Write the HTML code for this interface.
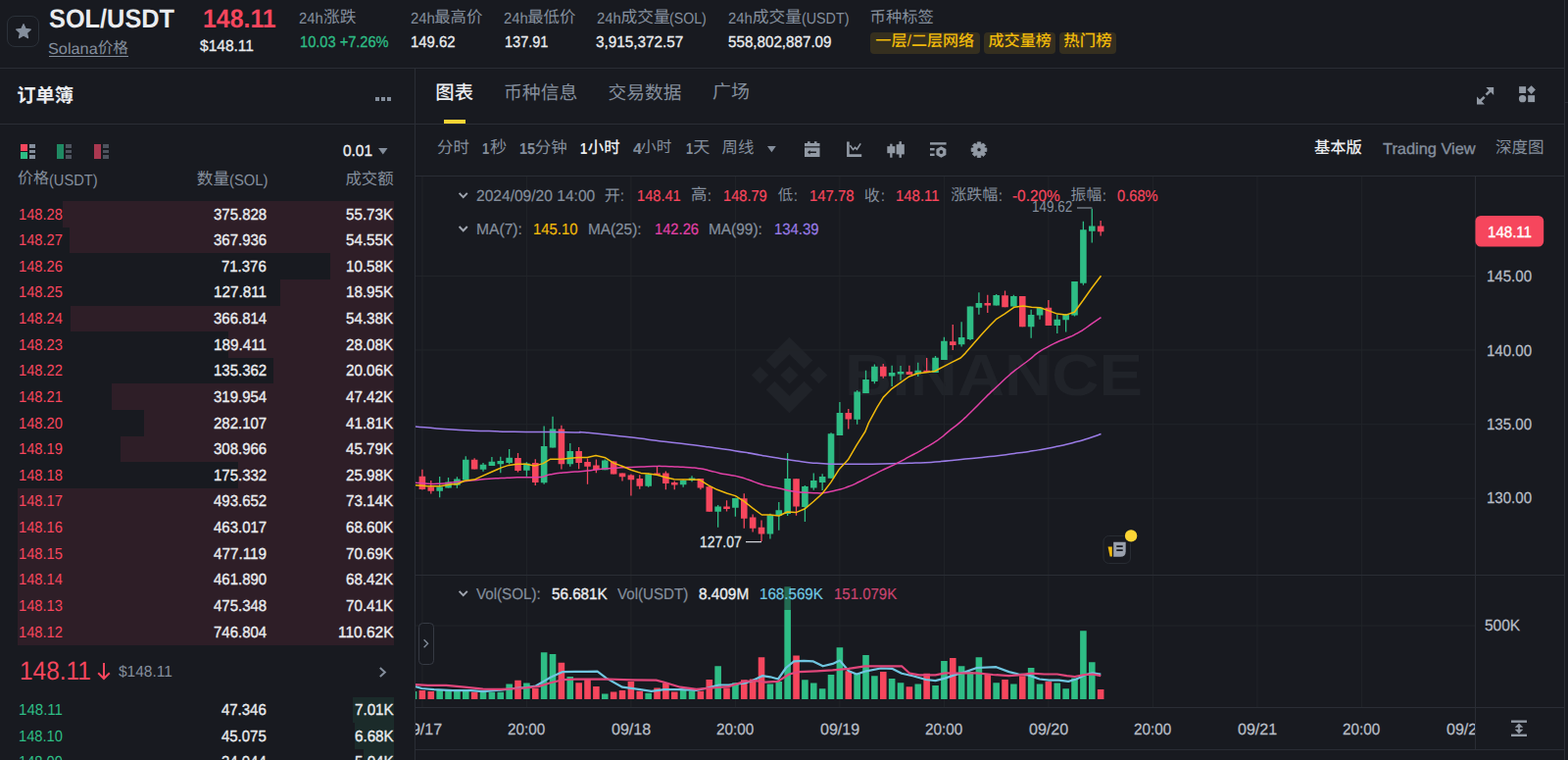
<!DOCTYPE html>
<html lang="zh-CN"><head><meta charset="utf-8"><title>SOL/USDT</title>
<style>
html,body{margin:0;padding:0;}
html{width:1600px;height:775px;overflow:hidden;background:#181a20;}
body{width:1600px;height:775px;overflow:hidden;position:relative;background:#181a20;font-family:"Liberation Sans",sans-serif;color:#eaecef;text-rendering:geometricPrecision;-webkit-font-smoothing:antialiased;}
.t{position:absolute;white-space:pre;transform-origin:0 50%;display:block;}
.k{font-family:"Liberation Sans","Noto Sans CJK SC",sans-serif;}
.c{position:absolute;display:block;line-height:0;}
.c svg{display:block;overflow:visible;}
.h{position:absolute;left:0;top:0;width:1px;height:1px;overflow:hidden;font-size:1px;line-height:1px;opacity:0;white-space:nowrap;}
#app{position:absolute;left:0;top:0;width:1600px;height:775px;overflow:hidden;}
.r{position:absolute;}
.a{position:absolute;display:block;overflow:visible;}
</style></head>
<body>
<div id="app">
<div class="r" style="left:0.00px;top:69.00px;width:1596.00px;height:1.00px;background:#2a2d35;"></div>
<div class="r" style="left:0.00px;top:126.00px;width:1596.00px;height:1.00px;background:#2a2d35;"></div>
<div class="r" style="left:424.00px;top:179.00px;width:1172.00px;height:1.00px;background:#2a2d35;"></div>
<div class="r" style="left:423.00px;top:69.00px;width:1.00px;height:706.00px;background:#2a2d35;"></div>
<div class="r" style="left:1596.00px;top:0.00px;width:1.00px;height:775.00px;background:#2a2d35;"></div>
<div class="r" style="left:1597.00px;top:104.00px;width:3.00px;height:1.00px;background:#2a2d35;"></div>
<div class="r" style="left:7px;top:16px;width:31px;height:30px;border:1px solid #2b3139;border-radius:8px"></div>
<svg class="a" style="left:14.5px;top:23px" width="18" height="18" viewBox="0 0 24 24"><path fill="#848e9c" d="M12 2.2l2.95 6.35 6.85.75-5.1 4.7 1.4 6.85L12 17.4l-6.1 3.45 1.4-6.85-5.1-4.7 6.85-.75z" stroke="#848e9c" stroke-width="1.6" stroke-linejoin="round"/></svg>
<span class="t" style="left:50.00px;top:5px;font-size:26.67px;line-height:29px;color:#eaecef;transform:scaleX(0.9505);font-weight:bold;">SOL/USDT</span>
<span class="t" style="left:49.40px;top:42px;font-size:16px;line-height:18px;color:#848e9c;transform:scaleX(1.0175);">Solana</span>
<span class="t k" style="left:99.72px;top:41.79px;font-size:15.62px;line-height:15.62px;color:#848e9c;">价格</span>
<div class="r" style="left:50.00px;top:57.00px;width:81.00px;height:1.00px;background:#848e9c;"></div>
<span class="t" style="left:206.90px;top:5px;font-size:26.67px;line-height:29px;color:#f6465d;transform:scaleX(0.9330);font-weight:bold;">148.11</span>
<span class="t" style="left:204.40px;top:39px;font-size:16px;line-height:18px;color:#eaecef;transform:scaleX(0.9708);-webkit-text-stroke:0.3px #eaecef;">$148.11</span>
<span class="t" style="left:305.40px;top:11px;font-size:16px;line-height:18px;color:#848e9c;transform:scaleX(0.9250);">24h</span>
<span class="t k" style="left:330.05px;top:10.23px;font-size:16.74px;line-height:16.74px;color:#848e9c;">涨跌</span>
<span class="t" style="left:306.30px;top:35px;font-size:16px;line-height:18px;color:#2ebd85;transform:scaleX(0.9133);-webkit-text-stroke:0.3px #2ebd85;">10.03 +7.26%</span>
<span class="t" style="left:418.80px;top:11px;font-size:16px;line-height:18px;color:#848e9c;transform:scaleX(0.9287);">24h</span>
<span class="t k" style="left:443.23px;top:10.41px;font-size:16.39px;line-height:16.39px;color:#848e9c;">最高价</span>
<span class="t" style="left:419.40px;top:35px;font-size:16px;line-height:18px;color:#eaecef;transform:scaleX(0.9318);-webkit-text-stroke:0.3px #eaecef;">149.62</span>
<span class="t" style="left:513.80px;top:11px;font-size:16px;line-height:18px;color:#848e9c;transform:scaleX(0.9287);">24h</span>
<span class="t k" style="left:538.23px;top:10.41px;font-size:16.39px;line-height:16.39px;color:#848e9c;">最低价</span>
<span class="t" style="left:515.00px;top:35px;font-size:16px;line-height:18px;color:#eaecef;transform:scaleX(0.9073);-webkit-text-stroke:0.3px #eaecef;">137.91</span>
<span class="t" style="left:608.80px;top:11px;font-size:16px;line-height:18px;color:#848e9c;transform:scaleX(0.9287);">24h</span>
<span class="t k" style="left:633.40px;top:10.21px;font-size:16.79px;line-height:16.79px;color:#848e9c;">成交量</span>
<span class="t" style="left:683.40px;top:11px;font-size:16px;line-height:18px;color:#848e9c;transform:scaleX(0.8858);">(SOL)</span>
<span class="t" style="left:608.20px;top:35px;font-size:16px;line-height:18px;color:#eaecef;transform:scaleX(0.9559);-webkit-text-stroke:0.3px #eaecef;">3,915,372.57</span>
<span class="t" style="left:743.20px;top:11px;font-size:16px;line-height:18px;color:#848e9c;transform:scaleX(0.9287);">24h</span>
<span class="t k" style="left:767.80px;top:10.21px;font-size:16.79px;line-height:16.79px;color:#848e9c;">成交量</span>
<span class="t" style="left:817.80px;top:11px;font-size:16px;line-height:18px;color:#848e9c;transform:scaleX(0.8927);">(USDT)</span>
<span class="t" style="left:743.20px;top:35px;font-size:16px;line-height:18px;color:#eaecef;transform:scaleX(0.9486);-webkit-text-stroke:0.3px #eaecef;">558,802,887.09</span>
<span class="t k" style="left:887.61px;top:10.27px;font-size:16.27px;line-height:16.27px;color:#848e9c;">币种标签</span>
<div class="r" style="left:888.00px;top:33.30px;width:112.00px;height:21.30px;background:#352f1f;border-radius:4px"></div>
<div class="r" style="left:1004.00px;top:33.30px;width:73.00px;height:21.30px;background:#352f1f;border-radius:4px"></div>
<div class="r" style="left:1081.00px;top:33.30px;width:58.00px;height:21.30px;background:#352f1f;border-radius:4px"></div>
<span class="t k" style="left:893.32px;top:34.26px;font-size:16.07px;line-height:16.07px;color:#f0b90b;font-weight:500;">一层/二层网络</span>
<span class="t k" style="left:1008.50px;top:34.26px;font-size:16.07px;line-height:16.07px;color:#f0b90b;font-weight:500;">成交量榜</span>
<span class="t k" style="left:1085.36px;top:34.09px;font-size:16.41px;line-height:16.41px;color:#f0b90b;font-weight:500;">热门榜</span>
<span class="t k" style="left:17.25px;top:89.34px;font-size:19.32px;line-height:19.32px;color:#eaecef;font-weight:bold;">订单簿</span>
<div class="r" style="left:382.50px;top:99.00px;width:4.30px;height:4.00px;background:#848e9c;"></div>
<div class="r" style="left:388.60px;top:99.00px;width:4.30px;height:4.00px;background:#848e9c;"></div>
<div class="r" style="left:394.80px;top:99.00px;width:4.30px;height:4.00px;background:#848e9c;"></div>
<div class="r" style="left:21.00px;top:147.00px;width:6.50px;height:7.00px;background:#f6465d;"></div>
<div class="r" style="left:21.00px;top:155.00px;width:6.50px;height:7.00px;background:#2ebd85;"></div>
<div class="r" style="left:29.50px;top:147.00px;width:6.70px;height:3.60px;background:#848e9c;"></div>
<div class="r" style="left:29.50px;top:152.50px;width:6.70px;height:3.60px;background:#848e9c;"></div>
<div class="r" style="left:29.50px;top:158.00px;width:6.70px;height:3.60px;background:#848e9c;"></div>
<div class="r" style="left:58.30px;top:147.00px;width:6.50px;height:15.00px;background:#1f8a63;"></div>
<div class="r" style="left:66.80px;top:147.00px;width:6.70px;height:3.60px;background:#4e545f;"></div>
<div class="r" style="left:66.80px;top:152.50px;width:6.70px;height:3.60px;background:#4e545f;"></div>
<div class="r" style="left:66.80px;top:158.00px;width:6.70px;height:3.60px;background:#4e545f;"></div>
<div class="r" style="left:96.00px;top:147.00px;width:6.50px;height:15.00px;background:#a93850;"></div>
<div class="r" style="left:104.50px;top:147.00px;width:6.70px;height:3.60px;background:#4e545f;"></div>
<div class="r" style="left:104.50px;top:152.50px;width:6.70px;height:3.60px;background:#4e545f;"></div>
<div class="r" style="left:104.50px;top:158.00px;width:6.70px;height:3.60px;background:#4e545f;"></div>
<span class="t" style="left:349.60px;top:146px;font-size:16px;line-height:18px;color:#eaecef;transform:scaleX(0.9634);-webkit-text-stroke:0.35px #eaecef;">0.01</span>
<svg class="a" style="left:386px;top:150.6px" width="9.6" height="6.6" viewBox="0 0 10 7"><path fill="#848e9c" d="M0 0h10L5 7z"/></svg>
<span class="t k" style="left:18.01px;top:175.01px;font-size:15.98px;line-height:15.98px;color:#848e9c;">价格</span>
<span class="t" style="left:50.00px;top:176px;font-size:16px;line-height:18px;color:#848e9c;transform:scaleX(0.9148);">(USDT)</span>
<span class="t k" style="left:200.75px;top:174.65px;font-size:16.70px;line-height:16.70px;color:#848e9c;">数量</span>
<span class="t" style="left:233.80px;top:176px;font-size:16px;line-height:18px;color:#848e9c;transform:scaleX(0.9233);">(SOL)</span>
<span class="t k" style="left:352.41px;top:174.79px;font-size:16.42px;line-height:16.42px;color:#848e9c;">成交额</span>
<div class="r" style="left:64.00px;top:205.00px;width:338.40px;height:26.68px;background:#2e1e27;"></div>
<span class="t" style="left:19.40px;top:211px;font-size:16px;line-height:18px;color:#f6465d;transform:scaleX(0.9185);">148.28</span>
<span class="t" style="left:217.70px;top:211px;font-size:16px;line-height:18px;color:#eaecef;transform:scaleX(0.9353);-webkit-text-stroke:0.35px #eaecef;">375.828</span>
<span class="t" style="left:353.40px;top:211px;font-size:16px;line-height:18px;color:#eaecef;transform:scaleX(0.9484);-webkit-text-stroke:0.35px #eaecef;">55.73K</span>
<div class="r" style="left:71.00px;top:231.62px;width:331.40px;height:26.68px;background:#2e1e27;"></div>
<span class="t" style="left:19.40px;top:237px;font-size:16px;line-height:18px;color:#f6465d;transform:scaleX(0.9185);">148.27</span>
<span class="t" style="left:217.70px;top:237px;font-size:16px;line-height:18px;color:#eaecef;transform:scaleX(0.9353);-webkit-text-stroke:0.35px #eaecef;">367.936</span>
<span class="t" style="left:353.40px;top:237px;font-size:16px;line-height:18px;color:#eaecef;transform:scaleX(0.9484);-webkit-text-stroke:0.35px #eaecef;">54.55K</span>
<div class="r" style="left:337.00px;top:258.25px;width:65.40px;height:26.68px;background:#2e1e27;"></div>
<span class="t" style="left:19.40px;top:264px;font-size:16px;line-height:18px;color:#f6465d;transform:scaleX(0.9185);">148.26</span>
<span class="t" style="left:226.10px;top:264px;font-size:16px;line-height:18px;color:#eaecef;transform:scaleX(0.9338);-webkit-text-stroke:0.35px #eaecef;">71.376</span>
<span class="t" style="left:353.40px;top:264px;font-size:16px;line-height:18px;color:#eaecef;transform:scaleX(0.9484);-webkit-text-stroke:0.35px #eaecef;">10.58K</span>
<div class="r" style="left:286.00px;top:284.88px;width:116.40px;height:26.68px;background:#2e1e27;"></div>
<span class="t" style="left:19.40px;top:290px;font-size:16px;line-height:18px;color:#f6465d;transform:scaleX(0.9185);">148.25</span>
<span class="t" style="left:217.70px;top:290px;font-size:16px;line-height:18px;color:#eaecef;transform:scaleX(0.9549);-webkit-text-stroke:0.35px #eaecef;">127.811</span>
<span class="t" style="left:353.40px;top:290px;font-size:16px;line-height:18px;color:#eaecef;transform:scaleX(0.9484);-webkit-text-stroke:0.35px #eaecef;">18.95K</span>
<div class="r" style="left:72.00px;top:311.50px;width:330.40px;height:26.68px;background:#2e1e27;"></div>
<span class="t" style="left:19.40px;top:317px;font-size:16px;line-height:18px;color:#f6465d;transform:scaleX(0.9185);">148.24</span>
<span class="t" style="left:217.70px;top:317px;font-size:16px;line-height:18px;color:#eaecef;transform:scaleX(0.9353);-webkit-text-stroke:0.35px #eaecef;">366.814</span>
<span class="t" style="left:353.40px;top:317px;font-size:16px;line-height:18px;color:#eaecef;transform:scaleX(0.9484);-webkit-text-stroke:0.35px #eaecef;">54.38K</span>
<div class="r" style="left:233.00px;top:338.12px;width:169.40px;height:26.68px;background:#2e1e27;"></div>
<span class="t" style="left:19.40px;top:344px;font-size:16px;line-height:18px;color:#f6465d;transform:scaleX(0.9185);">148.23</span>
<span class="t" style="left:217.70px;top:344px;font-size:16px;line-height:18px;color:#eaecef;transform:scaleX(0.9549);-webkit-text-stroke:0.35px #eaecef;">189.411</span>
<span class="t" style="left:353.40px;top:344px;font-size:16px;line-height:18px;color:#eaecef;transform:scaleX(0.9484);-webkit-text-stroke:0.35px #eaecef;">28.08K</span>
<div class="r" style="left:279.00px;top:364.75px;width:123.40px;height:26.68px;background:#2e1e27;"></div>
<span class="t" style="left:19.40px;top:370px;font-size:16px;line-height:18px;color:#f6465d;transform:scaleX(0.9185);">148.22</span>
<span class="t" style="left:217.70px;top:370px;font-size:16px;line-height:18px;color:#eaecef;transform:scaleX(0.9353);-webkit-text-stroke:0.35px #eaecef;">135.362</span>
<span class="t" style="left:353.40px;top:370px;font-size:16px;line-height:18px;color:#eaecef;transform:scaleX(0.9484);-webkit-text-stroke:0.35px #eaecef;">20.06K</span>
<div class="r" style="left:114.00px;top:391.38px;width:288.40px;height:26.68px;background:#2e1e27;"></div>
<span class="t" style="left:19.40px;top:397px;font-size:16px;line-height:18px;color:#f6465d;transform:scaleX(0.9185);">148.21</span>
<span class="t" style="left:217.70px;top:397px;font-size:16px;line-height:18px;color:#eaecef;transform:scaleX(0.9353);-webkit-text-stroke:0.35px #eaecef;">319.954</span>
<span class="t" style="left:353.40px;top:397px;font-size:16px;line-height:18px;color:#eaecef;transform:scaleX(0.9484);-webkit-text-stroke:0.35px #eaecef;">47.42K</span>
<div class="r" style="left:147.00px;top:418.00px;width:255.40px;height:26.68px;background:#2e1e27;"></div>
<span class="t" style="left:19.40px;top:424px;font-size:16px;line-height:18px;color:#f6465d;transform:scaleX(0.9185);">148.20</span>
<span class="t" style="left:217.70px;top:424px;font-size:16px;line-height:18px;color:#eaecef;transform:scaleX(0.9353);-webkit-text-stroke:0.35px #eaecef;">282.107</span>
<span class="t" style="left:353.40px;top:424px;font-size:16px;line-height:18px;color:#eaecef;transform:scaleX(0.9484);-webkit-text-stroke:0.35px #eaecef;">41.81K</span>
<div class="r" style="left:123.00px;top:444.62px;width:279.40px;height:26.68px;background:#2e1e27;"></div>
<span class="t" style="left:19.40px;top:450px;font-size:16px;line-height:18px;color:#f6465d;transform:scaleX(0.9185);">148.19</span>
<span class="t" style="left:217.70px;top:450px;font-size:16px;line-height:18px;color:#eaecef;transform:scaleX(0.9353);-webkit-text-stroke:0.35px #eaecef;">308.966</span>
<span class="t" style="left:353.40px;top:450px;font-size:16px;line-height:18px;color:#eaecef;transform:scaleX(0.9484);-webkit-text-stroke:0.35px #eaecef;">45.79K</span>
<div class="r" style="left:243.00px;top:471.25px;width:159.40px;height:26.68px;background:#2e1e27;"></div>
<span class="t" style="left:19.40px;top:477px;font-size:16px;line-height:18px;color:#f6465d;transform:scaleX(0.9185);">148.18</span>
<span class="t" style="left:217.70px;top:477px;font-size:16px;line-height:18px;color:#eaecef;transform:scaleX(0.9353);-webkit-text-stroke:0.35px #eaecef;">175.332</span>
<span class="t" style="left:353.40px;top:477px;font-size:16px;line-height:18px;color:#eaecef;transform:scaleX(0.9484);-webkit-text-stroke:0.35px #eaecef;">25.98K</span>
<div class="r" style="left:18.00px;top:497.88px;width:384.40px;height:26.68px;background:#2e1e27;"></div>
<span class="t" style="left:19.40px;top:503px;font-size:16px;line-height:18px;color:#f6465d;transform:scaleX(0.9185);">148.17</span>
<span class="t" style="left:217.70px;top:503px;font-size:16px;line-height:18px;color:#eaecef;transform:scaleX(0.9353);-webkit-text-stroke:0.35px #eaecef;">493.652</span>
<span class="t" style="left:353.40px;top:503px;font-size:16px;line-height:18px;color:#eaecef;transform:scaleX(0.9484);-webkit-text-stroke:0.35px #eaecef;">73.14K</span>
<div class="r" style="left:18.00px;top:524.50px;width:384.40px;height:26.68px;background:#2e1e27;"></div>
<span class="t" style="left:19.40px;top:530px;font-size:16px;line-height:18px;color:#f6465d;transform:scaleX(0.9185);">148.16</span>
<span class="t" style="left:217.70px;top:530px;font-size:16px;line-height:18px;color:#eaecef;transform:scaleX(0.9353);-webkit-text-stroke:0.35px #eaecef;">463.017</span>
<span class="t" style="left:353.40px;top:530px;font-size:16px;line-height:18px;color:#eaecef;transform:scaleX(0.9484);-webkit-text-stroke:0.35px #eaecef;">68.60K</span>
<div class="r" style="left:18.00px;top:551.12px;width:384.40px;height:26.68px;background:#2e1e27;"></div>
<span class="t" style="left:19.40px;top:557px;font-size:16px;line-height:18px;color:#f6465d;transform:scaleX(0.9185);">148.15</span>
<span class="t" style="left:217.70px;top:557px;font-size:16px;line-height:18px;color:#eaecef;transform:scaleX(0.9549);-webkit-text-stroke:0.35px #eaecef;">477.119</span>
<span class="t" style="left:353.40px;top:557px;font-size:16px;line-height:18px;color:#eaecef;transform:scaleX(0.9484);-webkit-text-stroke:0.35px #eaecef;">70.69K</span>
<div class="r" style="left:18.00px;top:577.75px;width:384.40px;height:26.68px;background:#2e1e27;"></div>
<span class="t" style="left:19.40px;top:583px;font-size:16px;line-height:18px;color:#f6465d;transform:scaleX(0.9185);">148.14</span>
<span class="t" style="left:217.70px;top:583px;font-size:16px;line-height:18px;color:#eaecef;transform:scaleX(0.9353);-webkit-text-stroke:0.35px #eaecef;">461.890</span>
<span class="t" style="left:353.40px;top:583px;font-size:16px;line-height:18px;color:#eaecef;transform:scaleX(0.9484);-webkit-text-stroke:0.35px #eaecef;">68.42K</span>
<div class="r" style="left:18.00px;top:604.38px;width:384.40px;height:26.68px;background:#2e1e27;"></div>
<span class="t" style="left:19.40px;top:610px;font-size:16px;line-height:18px;color:#f6465d;transform:scaleX(0.9185);">148.13</span>
<span class="t" style="left:217.70px;top:610px;font-size:16px;line-height:18px;color:#eaecef;transform:scaleX(0.9353);-webkit-text-stroke:0.35px #eaecef;">475.348</span>
<span class="t" style="left:353.40px;top:610px;font-size:16px;line-height:18px;color:#eaecef;transform:scaleX(0.9484);-webkit-text-stroke:0.35px #eaecef;">70.41K</span>
<div class="r" style="left:18.00px;top:631.00px;width:384.40px;height:26.68px;background:#2e1e27;"></div>
<span class="t" style="left:19.40px;top:637px;font-size:16px;line-height:18px;color:#f6465d;transform:scaleX(0.9185);">148.12</span>
<span class="t" style="left:217.70px;top:637px;font-size:16px;line-height:18px;color:#eaecef;transform:scaleX(0.9353);-webkit-text-stroke:0.35px #eaecef;">746.804</span>
<span class="t" style="left:345.00px;top:637px;font-size:16px;line-height:18px;color:#eaecef;transform:scaleX(0.9671);-webkit-text-stroke:0.35px #eaecef;">110.62K</span>
<span class="t" style="left:20.30px;top:670px;font-size:26.67px;line-height:29px;color:#f6465d;transform:scaleX(0.9163);">148.11</span>
<svg class="a" style="left:99px;top:675px" width="14" height="19" viewBox="0 0 14 19"><path fill="none" stroke="#f6465d" stroke-width="2" d="M7 1v16M1.2 11.2L7 17l5.8-5.8"/></svg>
<span class="t" style="left:121.40px;top:677px;font-size:16px;line-height:18px;color:#848e9c;transform:scaleX(0.9690);">$148.11</span>
<svg class="a" style="left:386px;top:679.5px" width="9" height="11" viewBox="0 0 9 11"><path fill="none" stroke="#848e9c" stroke-width="2" d="M1.8 1l5 4.5-5 4.5"/></svg>
<div class="r" style="left:360.30px;top:710.70px;width:42.10px;height:26.68px;background:#1b2b2a;"></div>
<span class="t" style="left:19.40px;top:716px;font-size:16px;line-height:18px;color:#2ebd85;transform:scaleX(0.9414);">148.11</span>
<span class="t" style="left:226.10px;top:716px;font-size:16px;line-height:18px;color:#eaecef;transform:scaleX(0.9338);-webkit-text-stroke:0.35px #eaecef;">47.346</span>
<span class="t" style="left:361.80px;top:716px;font-size:16px;line-height:18px;color:#eaecef;transform:scaleX(0.9495);-webkit-text-stroke:0.35px #eaecef;">7.01K</span>
<div class="r" style="left:362.00px;top:737.33px;width:40.40px;height:26.68px;background:#1b2b2a;"></div>
<span class="t" style="left:19.40px;top:743px;font-size:16px;line-height:18px;color:#2ebd85;transform:scaleX(0.9185);">148.10</span>
<span class="t" style="left:226.10px;top:743px;font-size:16px;line-height:18px;color:#eaecef;transform:scaleX(0.9338);-webkit-text-stroke:0.35px #eaecef;">45.075</span>
<span class="t" style="left:361.80px;top:743px;font-size:16px;line-height:18px;color:#eaecef;transform:scaleX(0.9495);-webkit-text-stroke:0.35px #eaecef;">6.68K</span>
<div class="r" style="left:371.00px;top:763.95px;width:31.40px;height:26.68px;background:#1b2b2a;"></div>
<span class="t" style="left:19.40px;top:769px;font-size:16px;line-height:18px;color:#2ebd85;transform:scaleX(0.9185);">148.09</span>
<span class="t" style="left:226.10px;top:769px;font-size:16px;line-height:18px;color:#eaecef;transform:scaleX(0.9338);-webkit-text-stroke:0.35px #eaecef;">34.044</span>
<span class="t" style="left:361.80px;top:769px;font-size:16px;line-height:18px;color:#eaecef;transform:scaleX(0.9495);-webkit-text-stroke:0.35px #eaecef;">5.04K</span>
<span class="t k" style="left:444.37px;top:85.53px;font-size:19.34px;line-height:19.34px;color:#eaecef;font-weight:500;">图表</span>
<div class="r" style="left:453.00px;top:122.00px;width:22.00px;height:4.00px;background:#fcd535;"></div>
<span class="t k" style="left:513.92px;top:85.76px;font-size:18.88px;line-height:18.88px;color:#848e9c;">币种信息</span>
<span class="t k" style="left:620.62px;top:85.85px;font-size:18.69px;line-height:18.69px;color:#848e9c;">交易数据</span>
<span class="t k" style="left:727.06px;top:85.73px;font-size:18.94px;line-height:18.94px;color:#848e9c;">广场</span>
<svg class="a" style="left:1507px;top:88.7px" width="17.2" height="17.5" viewBox="0 0 17.2 17.5" fill="#929aa5"><path d="M9.3 0h7.9v7.9z"/><path d="M0 9.6l7.9 7.9H0z"/><path d="M14.4 2.8L9.5 7.7M2.8 14.7l4.9-4.9" stroke="#929aa5" stroke-width="2.6" fill="none"/></svg>
<svg class="a" style="left:1550px;top:87px" width="17" height="17.5" viewBox="0 0 17 17.5" fill="#929aa5"><rect x="0.1" y="1.2" width="7" height="6.8"/><path d="M12.6 0.2l4.3 4.4-4.3 4.4-4.3-4.4z"/><circle cx="3.6" cy="13.65" r="3.7"/><rect x="9.2" y="10.2" width="6.9" height="6.9"/></svg>
<span class="t k" style="left:446.08px;top:142.66px;font-size:16.48px;line-height:16.48px;color:#848e9c;">分时</span>
<span class="t" style="left:492.20px;top:144px;font-size:16px;line-height:18px;color:#848e9c;transform:scaleX(0.8084);font-weight:bold;">1</span>
<span class="t k" style="left:500.08px;top:142.31px;font-size:17.19px;line-height:17.19px;color:#848e9c;">秒</span>
<span class="t" style="left:530.30px;top:144px;font-size:16px;line-height:18px;color:#848e9c;transform:scaleX(0.9047);font-weight:bold;">15</span>
<span class="t k" style="left:545.87px;top:142.66px;font-size:16.48px;line-height:16.48px;color:#848e9c;">分钟</span>
<span class="t" style="left:592.20px;top:144px;font-size:16px;line-height:18px;color:#eaecef;transform:scaleX(0.8084);font-weight:bold;">1</span>
<span class="t k" style="left:599.74px;top:142.67px;font-size:16.46px;line-height:16.46px;color:#eaecef;font-weight:500;">小时</span>
<span class="t" style="left:645.70px;top:144px;font-size:16px;line-height:18px;color:#848e9c;transform:scaleX(0.9993);font-weight:bold;">4</span>
<span class="t k" style="left:654.10px;top:143.13px;font-size:15.54px;line-height:15.54px;color:#848e9c;">小时</span>
<span class="t" style="left:700.30px;top:144px;font-size:16px;line-height:18px;color:#848e9c;transform:scaleX(0.7972);font-weight:bold;">1</span>
<span class="t k" style="left:707.28px;top:142.35px;font-size:17.10px;line-height:17.10px;color:#848e9c;">天</span>
<span class="t k" style="left:736.56px;top:142.69px;font-size:16.42px;line-height:16.42px;color:#848e9c;">周线</span>
<svg class="a" style="left:782.5px;top:149.3px" width="8.8" height="6.4" viewBox="0 0 10 7"><path fill="#848e9c" d="M0 0h10L5 7z"/></svg>
<svg class="a" style="left:821px;top:144px" width="15.5" height="16" viewBox="0 0 15.5 16" fill="#929aa5"><path d="M0 2h3V0.3h2.6V2h4.3V0.3h2.6V2h3v3.2H0z"/><path d="M0 6.6h15.5V16H0z M5.6 9L3 11.3l2.6 2.3v-1.5h6.3v-1.7H5.6z" fill-rule="evenodd"/></svg>
<svg class="a" style="left:864px;top:144px" width="15.5" height="16" viewBox="0 0 15.5 16" fill="none" stroke="#929aa5"><path d="M1.4 0.5V14.6H15.2" stroke-width="2.6"/><path d="M3.4 4.2L6.5 8.6 8.6 6.4 10.4 8.2 14.2 2.4" stroke-width="1.6"/></svg>
<svg class="a" style="left:905px;top:143.8px" width="18" height="17" viewBox="0 0 18 17" fill="#929aa5"><rect x="0.3" y="5.2" width="8" height="7"/><rect x="3.2" y="2.7" width="2.3" height="14"/><rect x="9.6" y="3.2" width="8.2" height="10.2"/><rect x="12.5" y="0.2" width="2.4" height="16.6"/></svg>
<svg class="a" style="left:948.7px;top:145.3px" width="17" height="16" viewBox="0 0 17 16" fill="#929aa5"><rect x="0" y="0.2" width="16.6" height="2.4"/><rect x="0" y="6" width="4.6" height="2.4"/><rect x="0" y="11.6" width="4.6" height="2.4"/><path d="M11.4 4.2l5 2.9v5.8l-5 2.9-5-2.9V7.1z M11.4 8.1a1.9 1.9 0 100 3.8 1.9 1.9 0 000-3.8z" fill-rule="evenodd"/></svg>
<svg class="a" style="left:990px;top:144px" width="18" height="18" viewBox="0 0 18 18"><path fill="#929aa5" fill-rule="evenodd" stroke="#929aa5" stroke-width="0.8" stroke-linejoin="round" d="M7.25 0.89L10.75 0.89L10.70 2.84L11.94 3.35L13.29 1.95L15.75 4.41L14.35 5.76L14.86 7.00L16.81 6.95L16.81 10.45L14.86 10.40L14.35 11.64L15.75 12.99L13.29 15.45L11.94 14.05L10.70 14.56L10.75 16.51L7.25 16.51L7.30 14.56L6.06 14.05L4.71 15.45L2.25 12.99L3.65 11.64L3.14 10.40L1.19 10.45L1.19 6.95L3.14 7.00L3.65 5.76L2.25 4.41L4.71 1.95L6.06 3.35L7.30 2.84z M9 6.6a2.1 2.1 0 100 4.2 2.1 2.1 0 000-4.2z"/></svg>
<span class="t k" style="left:1341.01px;top:142.85px;font-size:16.31px;line-height:16.31px;color:#eaecef;font-weight:500;">基本版</span>
<span class="t" style="left:1410.70px;top:144px;font-size:16px;line-height:18px;color:#848e9c;transform:scaleX(1.0227);-webkit-text-stroke:0.35px #848e9c;">Trading View</span>
<span class="t k" style="left:1525.97px;top:142.72px;font-size:16.57px;line-height:16.57px;color:#848e9c;">深度图</span>
<svg class="a" style="left:0;top:0" width="1600" height="775" viewBox="0 0 1600 775"><defs><clipPath id="cp"><rect x="424" y="180" width="1081.5" height="541.5"/></clipPath></defs><g fill="#202329" transform="translate(766.8 343.8) scale(0.612)"><path d="M63.3 48.57L78.04 63.3 63.3 78.04 48.57 63.3z"/><path d="M38.73 53.2L63.3 28.63 87.88 53.21 102.18 38.91 63.3 0 24.43 38.9z"/><path d="M0 63.31L14.3 49.01 28.6 63.31 14.3 77.61z"/><path d="M98.01 63.31L112.31 49.01 126.61 63.31 112.31 77.61z"/><path d="M38.73 73.41L63.3 97.99 87.88 73.41 102.18 87.7 63.3 126.61 24.43 87.71z"/></g><text x="862" y="403.4" font-family="Liberation Sans, sans-serif" font-weight="bold" font-size="59.5" fill="#202329" textLength="304" lengthAdjust="spacingAndGlyphs">BINANCE</text><path d="M430.9 180V721 M537.4 180V721 M643.9 180V721 M750.4 180V721 M856.9 180V721 M963.4 180V721 M1069.9 180V721 M1176.4 180V721 M1282.9 180V721 M1389.4 180V721 M424 281.5H1505 M424 357H1505 M424 432.7H1505 M424 508.2H1505 M424 638H1505" stroke="#212429" stroke-width="1" fill="none"/><path d="M424 586.5H1596M424 721.5H1596M424 764.5H1596M1505.5 180V764" stroke="#2a2d35" stroke-width="1" fill="none"/><g clip-path="url(#cp)"><path d="M418.72 705h6.6V713h-6.6zM445.35 704h6.6V713h-6.6zM454.22 704h6.6V713h-6.6zM463.10 704h6.6V713h-6.6zM471.97 703h6.6V713h-6.6zM489.72 705.7h6.6V713h-6.6zM498.60 705.7h6.6V713h-6.6zM507.47 705.7h6.6V713h-6.6zM516.35 697.6h6.6V713h-6.6zM534.10 696.6h6.6V713h-6.6zM551.85 665.3h6.6V713h-6.6zM560.73 667h6.6V713h-6.6zM578.48 690h6.6V713h-6.6zM613.98 707.4h6.6V713h-6.6zM658.35 706.7h6.6V713h-6.6zM693.85 703.4h6.6V713h-6.6zM702.73 704.8h6.6V713h-6.6zM729.35 679.3h6.6V713h-6.6zM747.10 696.2h6.6V713h-6.6zM782.60 697.4h6.6V713h-6.6zM791.48 695h6.6V713h-6.6zM800.35 598.2h6.6V713h-6.6zM818.10 693.3h6.6V713h-6.6zM826.98 696.6h6.6V713h-6.6zM835.85 702.3h6.6V713h-6.6zM844.73 688h6.6V713h-6.6zM853.60 660.2h6.6V713h-6.6zM871.35 686.7h6.6V713h-6.6zM880.23 667.9h6.6V713h-6.6zM889.10 689.2h6.6V713h-6.6zM906.85 692h6.6V713h-6.6zM915.73 696.2h6.6V713h-6.6zM933.48 697.4h6.6V713h-6.6zM951.23 699h6.6V713h-6.6zM960.10 674h6.6V713h-6.6zM977.85 679.3h6.6V713h-6.6zM986.73 685h6.6V713h-6.6zM995.60 670.3h6.6V713h-6.6zM1013.35 696.2h6.6V713h-6.6zM1031.10 697.4h6.6V713h-6.6zM1048.85 681h6.6V713h-6.6zM1057.73 697.4h6.6V713h-6.6zM1075.48 696.6h6.6V713h-6.6zM1084.35 702.3h6.6V713h-6.6zM1093.23 691.6h6.6V713h-6.6zM1102.10 643.3h6.6V713h-6.6zM1110.98 675.2h6.6V713h-6.6z" fill="#2ebd85"/><path d="M427.60 704h6.6V713h-6.6zM436.47 705h6.6V713h-6.6zM480.85 705.7h6.6V713h-6.6zM525.23 693.8h6.6V713h-6.6zM542.98 702h6.6V713h-6.6zM569.60 675.7h6.6V713h-6.6zM587.35 696.3h6.6V713h-6.6zM596.23 692.6h6.6V713h-6.6zM605.10 700.1h6.6V713h-6.6zM622.85 705.4h6.6V713h-6.6zM631.73 704h6.6V713h-6.6zM640.60 695h6.6V713h-6.6zM649.48 704.8h6.6V713h-6.6zM667.23 701.5h6.6V713h-6.6zM676.10 696.6h6.6V713h-6.6zM684.98 705.6h6.6V713h-6.6zM711.60 704.8h6.6V713h-6.6zM720.48 693h6.6V713h-6.6zM738.23 701.5h6.6V713h-6.6zM755.98 693.3h6.6V713h-6.6zM764.85 692.5h6.6V713h-6.6zM773.73 670.3h6.6V713h-6.6zM809.23 668.4h6.6V713h-6.6zM862.48 684.3h6.6V713h-6.6zM897.98 685h6.6V713h-6.6zM924.60 700.2h6.6V713h-6.6zM942.35 686.7h6.6V713h-6.6zM968.98 671.1h6.6V713h-6.6zM1004.48 687.5h6.6V713h-6.6zM1022.23 693h6.6V713h-6.6zM1039.98 689.2h6.6V713h-6.6zM1066.60 695h6.6V713h-6.6zM1119.85 703.1h6.6V713h-6.6z" fill="#f6465d"/><path d="M424 700.1L430.3 702L442.8 703.2L461.5 704.1L480.3 704.1L492.8 705.1L511.6 703.6L524.1 702L536.6 701.1L546.7 699.5L554.2 695.1L561.7 690.7L574.2 685.1L586.7 684.8L599.2 684.8L609.6 684.7L618.8 691.6L635.1 700.7L653.2 703.1L664.7 704.8L677.8 703.1L694.2 703.1L710.6 703.9L722 701.5L733.5 698.5L743.3 698.5L759.7 696.6L767.9 694.1L777.8 689.2L786 690.3L794 692.5L802 681L810.2 674.4L820.1 673.9L829.9 674.4L839.7 679.3L849.6 676.9L857 673.6L866 684.3L874.2 687.5L884 684.3L898.8 681.5L910.2 681.8L920.1 686.7L931.5 689.2L944.7 693L954.5 694.1L964.3 691.6L973.8 688.4L985.3 685.1L996.8 681L1016.5 680.2L1029.6 685.1L1039.4 687.5L1049.2 688.4L1060.7 692.5L1070.6 693.6L1080.4 693.6L1090.2 694.9L1098.4 692.5L1106.6 688.4L1114.8 686.4L1123.3 687.5" stroke="#6fc6e0" stroke-width="2.2" fill="none" stroke-linejoin="round"/><path d="M424 698.2L436.5 698.8L455.3 698.8L474 700.7L492.8 702.6L511.6 702.9L530.4 702L549.2 700.1L561.7 696.3L574.2 693.2L586.7 692.6L605.5 692.6L620.4 692.5L645 693.3L669.6 693.6L677.8 695.7L694.2 700.7L710.6 702.8L727 701.5L743.3 700.2L759.7 694.9L771.2 694.1L781 695.7L793.8 694.9L805.3 687.5L815.1 685.1L833.2 684.3L849.6 683.4L866 681.8L882.4 679.3L898.8 679.3L908.6 679.3L920.1 679.3L928.3 686.7L938.1 688.4L954.5 688.4L964.3 686.3L973.8 686.5L996.8 686.4L1013.2 688L1029.6 689.2L1039.4 688.4L1052.5 686.7L1065.6 687.5L1078.8 687.5L1088.6 689.2L1096.8 690L1106.6 688L1114.8 687.5L1123.3 689.2" stroke="#e0467a" stroke-width="2.2" fill="none" stroke-linejoin="round"/><path d="M448.65 485.9V507.3M457.52 487V497.6M466.40 486.3V497.8M475.27 465.3V489.6M493.02 472V480.7M501.90 466V475M510.77 465.7V482.2M519.65 457.9V473.2M537.40 471.3V485.7M555.15 434.4V493.8M564.02 424.8V456.5M581.77 452V475.7M617.27 468.4V479.2M661.65 482.4V496.8M697.15 489.3V496.8M706.02 485.3V491.2M732.65 514.9V537.8M750.40 507.8V526.8M785.90 523.7V549.6M794.77 512.1V540.8M803.65 461.9V526M821.40 495V532M830.27 482.5V499.8M839.15 483.2V500M848.02 441.3V487.8M856.90 410V444M874.65 398V432.8M883.52 377.8V401M892.40 371.5V391.3M910.15 372.8V394M919.02 373V387.8M936.77 369.8V384M954.52 363V380M963.40 343.8V366.9M981.15 328.2V353.6M990.02 312.5V347M998.90 298.2V320.7M1016.65 300V311.5M1034.40 300.7V312.5M1052.15 315.7V344.8M1061.03 313.2V325.7M1078.78 321V340M1087.65 320V338.6M1096.53 286.9V322.5M1105.40 225.8V290.8M1114.28 212.7V247.5" stroke="#2ebd85" stroke-width="1.3" fill="none"/><path d="M430.90 478.8V499.5M439.77 490V503.6M484.15 467.3V478.6M528.52 462V481.6M546.27 468.2V495M572.90 433.8V478.6M590.65 456V478.2M599.52 467.6V493.8M608.40 468.4V482.3M626.15 470.2V483.6M635.02 482.4V490.5M643.90 483.6V505.5M652.77 484.3V498.7M670.52 476.1V484.3M679.40 480.5V499.3M688.27 490.5V499.3M714.90 488V499.3M723.77 495.8V521.8M741.52 510.3V521.6M759.27 503.3V538.7M768.15 524.6V542.5M777.02 530.6V552.1M812.52 488.2V525.7M865.77 417V437.5M901.27 371V385.7M927.90 372.8V382M945.65 365V380M972.27 331V357M1007.77 300.7V319M1025.53 296.5V313.2M1043.28 301.9V333.2M1069.90 306V332M1123.15 225V240.6" stroke="#f6465d" stroke-width="1.3" fill="none"/><path d="M445.35 496.6h6.6V500.7h-6.6zM454.22 491.6h6.6V497.6h-6.6zM463.10 488.6h6.6V494.8h-6.6zM471.97 468.8h6.6V489.6h-6.6zM489.72 473.8h6.6V478.8h-6.6zM498.60 470.7h6.6V475h-6.6zM507.47 470h6.6V473.2h-6.6zM516.35 466.7h6.6V472h-6.6zM534.10 472.6h6.6V479.8h-6.6zM551.85 455h6.6V492.3h-6.6zM560.73 437.5h6.6V456.5h-6.6zM578.48 460h6.6V473.2h-6.6zM613.98 469.6h6.6V479.2h-6.6zM658.35 483.6h6.6V495.8h-6.6zM693.85 489.9h6.6V494.3h-6.6zM702.73 487.4h6.6V489.9h-6.6zM729.35 516.6h6.6V521.8h-6.6zM747.10 508h6.6V517.8h-6.6zM782.60 525.2h6.6V544.6h-6.6zM791.48 520.2h6.6V525.8h-6.6zM800.35 487.9h6.6V524h-6.6zM818.10 496h6.6V517h-6.6zM826.98 490h6.6V497.5h-6.6zM835.85 486h6.6V492h-6.6zM844.73 442.3h6.6V487.8h-6.6zM853.60 421h6.6V443.9h-6.6zM871.35 399.4h6.6V427.8h-6.6zM880.23 387h6.6V401h-6.6zM889.10 373.8h6.6V389h-6.6zM906.85 380h6.6V383.5h-6.6zM915.73 379h6.6V381.5h-6.6zM933.48 377.8h6.6V381.3h-6.6zM951.23 364.8h6.6V380h-6.6zM960.10 347.8h6.6V366.9h-6.6zM977.85 344h6.6V351.3h-6.6zM986.73 312.5h6.6V346h-6.6zM995.60 309h6.6V313.8h-6.6zM1013.35 301h6.6V311.5h-6.6zM1031.10 301.9h6.6V312.5h-6.6zM1048.85 321h6.6V333.2h-6.6zM1057.73 313.8h6.6V321.5h-6.6zM1075.48 325.7h6.6V332h-6.6zM1084.35 320.7h6.6V326.3h-6.6zM1093.23 286.9h6.6V321.5h-6.6zM1102.10 234.3h6.6V288.7h-6.6zM1110.98 230.5h6.6V235.7h-6.6z" fill="#2ebd85"/><path d="M427.60 485.7h6.6V499.1h-6.6zM436.47 496.6h6.6V500.7h-6.6zM480.85 468.8h6.6V478.6h-6.6zM525.23 467h6.6V480h-6.6zM542.98 472h6.6V492h-6.6zM569.60 437.5h6.6V473.2h-6.6zM587.35 460h6.6V472h-6.6zM596.23 471h6.6V475.7h-6.6zM605.10 474.5h6.6V479h-6.6zM622.85 470.5h6.6V483.6h-6.6zM631.73 482.4h6.6V486.2h-6.6zM640.60 484.5h6.6V489.3h-6.6zM649.48 488h6.6V495.8h-6.6zM667.23 482.4h6.6V484.3h-6.6zM676.10 482.4h6.6V493h-6.6zM684.98 492h6.6V494.5h-6.6zM711.60 488h6.6V497.4h-6.6zM720.48 496.2h6.6V521.8h-6.6zM738.23 516.6h6.6V519h-6.6zM755.98 508.3h6.6V528.7h-6.6zM764.85 527.5h6.6V538.7h-6.6zM773.73 537.7h6.6V544.4h-6.6zM809.23 488.2h6.6V516.5h-6.6zM862.48 421h6.6V427.5h-6.6zM897.98 373.8h6.6V383.8h-6.6zM924.60 379h6.6V382h-6.6zM942.35 377.8h6.6V380h-6.6zM968.98 348.2h6.6V352h-6.6zM1004.48 309h6.6V311.5h-6.6zM1022.23 301.3h6.6V313.2h-6.6zM1039.98 301.9h6.6V333.2h-6.6zM1066.60 313.8h6.6V332h-6.6zM1119.85 230.4h6.6V236.2h-6.6z" fill="#f6465d"/><path d="M424 434.9C436.5 436.0 436.5 436.5 461.5 438.1C486.5 439.7 474.0 438.8 499 439.6C524.0 440.4 515.7 440.1 536.6 440.4C557.5 440.7 545.0 440.4 561.7 440.6C578.4 440.8 573.9 440.8 586.7 441C599.5 441.2 582.2 439.8 600 441.3C617.8 442.8 613.3 442.5 640 445.6C666.7 448.7 653.3 447.3 680 450.6C706.7 453.9 693.3 451.8 720 455.4C746.7 459.0 738.7 457.9 760 461.3C781.3 464.7 769.7 463.1 784 465.5C798.3 467.9 790.3 466.6 802.8 468.5C815.3 470.4 809.0 469.8 821.5 471.2C834.0 472.6 827.8 472.0 840.3 472.7C852.8 473.4 844.4 473.0 859 473.2C873.6 473.4 867.3 473.3 884 473.2C900.7 473.1 892.3 473.2 909 472.8C925.7 472.4 917.0 472.7 934 472C951.0 471.3 943.0 471.9 960 470.6C977.0 469.3 968.3 469.8 985 468.1C1001.7 466.4 993.3 467.5 1010 465.6C1026.7 463.7 1021.7 464.2 1035 462.5C1048.3 460.8 1040.0 461.9 1050 460.4C1060.0 458.9 1055.0 459.7 1065 457.9C1075.0 456.1 1070.0 457.1 1080 455C1090.0 452.9 1085.0 454.1 1095 451.5C1105.0 448.9 1100.5 450.2 1110 447.2C1119.5 444.2 1119.0 444.1 1123.5 442.5" stroke="#9a7be6" stroke-width="1.5" fill="none" stroke-linejoin="round"/><path d="M424 492.3C428.2 492.6 428.2 492.9 436.5 493.2C444.8 493.5 440.7 493.6 449 493.2C457.3 492.8 453.2 492.8 461.5 492C469.8 491.2 465.6 491.5 474 490.7C482.4 489.9 478.3 490.3 486.6 489.5C494.9 488.7 490.7 488.8 499 488.2C507.3 487.6 503.3 488.0 511.6 487.6C519.9 487.2 515.7 487.3 524 487C532.3 486.7 528.3 486.8 536.6 486.7C544.9 486.6 542.7 487.0 549 486.7C555.3 486.4 551.2 486.7 555.4 485.7C559.6 484.7 555.4 485.0 561.7 483.8C568.0 482.6 565.9 482.9 574.2 482C582.5 481.1 578.4 481.7 586.7 481.1C595.0 480.5 590.9 481.0 599.2 480.1C607.5 479.2 603.4 479.3 611.7 478.4C620.0 477.5 614.1 478.0 624 477.4C633.9 476.8 631.5 476.9 641.5 476.5C651.5 476.1 645.6 476.4 654 476.1C662.4 475.8 658.3 475.7 666.6 475.5C674.9 475.3 670.7 475.3 679 475.5C687.3 475.7 683.3 475.7 691.6 476.1C699.9 476.5 696.5 476.2 704 476.8C711.5 477.4 707.3 476.8 714 477.8C720.7 478.8 717.3 478.4 724 479.9C730.7 481.4 727.3 480.9 734 482.4C740.7 483.9 737.3 483.0 744 484.3C750.7 485.6 747.3 484.5 754 486.2C760.7 487.9 757.3 487.0 764 489.3C770.7 491.6 767.3 490.8 774 493C780.7 495.2 776.5 494.0 784 495.8C791.5 497.6 788.2 496.5 796.5 498.3C804.8 500.1 800.7 499.8 809 501.1C817.3 502.4 813.2 501.7 821.5 502.3C829.8 502.9 827.7 502.7 834 502.8C840.3 502.9 834.0 503.5 840.3 502.6C846.6 501.7 844.4 502.2 852.8 500.1C861.2 498.0 857.0 499.4 865.4 496.3C873.8 493.2 869.6 494.7 877.9 490.7C886.2 486.7 882.1 488.6 890.4 484.4C898.7 480.2 894.6 482.2 902.9 478.2C911.2 474.2 907.1 476.5 915.4 472.3C923.7 468.1 919.6 470.2 927.9 465.7C936.2 461.2 932.0 463.6 940.4 458.8C948.8 454.0 946.5 455.4 953 451.3C959.5 447.2 955.1 450.2 960 446.5C964.9 442.8 961.0 445.6 967.7 440.1C974.4 434.6 971.9 437.4 980.2 430.1C988.5 422.8 984.4 426.3 992.7 418.2C1001.0 410.1 996.9 413.8 1005.2 405.7C1013.5 397.6 1009.5 401.5 1017.7 393.8C1025.9 386.1 1022.5 388.9 1029.9 382.5C1037.3 376.1 1033.3 379.7 1040 374.5C1046.7 369.3 1043.4 372.2 1050.1 367C1056.8 361.8 1053.5 363.5 1060.2 358.9C1066.9 354.3 1064.0 356.6 1070.2 353.2C1076.4 349.8 1073.1 351.5 1078.9 348.8C1084.7 346.1 1081.9 347.6 1087.7 345.1C1093.5 342.6 1090.6 344.2 1096.4 341.3C1102.2 338.4 1099.3 340.0 1105.2 336.3C1111.1 332.6 1107.9 334.3 1114 330.1C1120.1 325.9 1120.3 325.8 1123.5 323.6" stroke="#e040a6" stroke-width="1.5" fill="none" stroke-linejoin="round"/><path d="M424 494.8L436.5 495.7L449 495.7L461.5 493.8L466.5 493.8L474 490.3L484 489.1L492.8 485.1L501.6 481.3L511.6 476.9L519.1 474.4L527.9 473.2L536.6 473.2L545.4 475.1L554.2 472.6L561.7 468.2L573 468.2L581.7 467.3L590.5 466.6L599.2 466.6L608 464.6L617.8 466.8L626.5 472.4L635.3 475.5L644 479.3L654 482.4L661.6 483L670.3 484.3L679.1 486.8L687.9 488.7L696.6 489L705.4 489L714.1 489.3L722.9 494.9L731.7 499.3L741.7 503L750.4 505.6L759.2 511.2L768 518.1L777.3 525L786.1 525L794.9 526L803.4 522L812.2 522.6L821.5 518.8L830.3 511.3L839.1 503.2L847.8 491.9L856.6 478.2L865.4 468.8L874.1 453.8L882.9 440L886.3 431.4L895.1 415.1L901.3 405.1L910.1 396.3L918.9 390.1L927.6 384L936.4 380.7L945.1 379.7L953.9 378.5L962.7 373.8L971.4 369.4L980.2 365L985.1 360.1L993.8 350.1L1002.6 340.1L1010.1 332L1016.3 325.7L1025.1 320.1L1035.1 313.2L1043.9 311.9L1052.6 313.2L1061.4 313.8L1070.2 316.9L1078.9 320.1L1087.7 321.1L1096.4 318.2L1105.2 306.3L1114 293.8L1123.5 281.3" stroke="#f0b90b" stroke-width="1.5" fill="none" stroke-linejoin="round"/></g><path d="M1099 212H1114.4" stroke="#848e9c" stroke-width="1.2"/><path d="M761 552.6H777" stroke="#d5d8de" stroke-width="1.2"/><rect x="1505.5" y="220" width="69.7" height="31.6" rx="5.5" fill="#f6465d"/><rect x="427.5" y="635.5" width="15" height="42" rx="4" fill="#181a20" stroke="#363a43" stroke-width="1"/><path d="M432.6 652.2l4 4-4 4" stroke="#848e9c" stroke-width="1.3" fill="none"/><rect x="1126" y="546.5" width="27.5" height="28" rx="5.5" fill="#181a20" stroke="#282c33" stroke-width="1"/><path d="M1136.2 552.7h12.5v9.6q0 5.5-5.5 5.5h-7z" fill="#9aa1ad"/><path d="M1139.3 557.2h6.4M1139.3 561.2h6.4" stroke="#181a20" stroke-width="1.7"/><path d="M1130.6 557.6h4.2v9.9h-2.2z" fill="#f0b90b"/><circle cx="1154.1" cy="546.4" r="7.6" fill="#181a20"/><circle cx="1154.1" cy="546.4" r="6.2" fill="#fcd535"/><g fill="#929aa5"><rect x="1542" y="734.5" width="16" height="2.4"/><rect x="1542" y="748.6" width="16" height="2.4"/><path d="M1550 737.4l4.3 4.4h-8.6z"/><path d="M1550 748.2l4.3-4.4h-8.6z"/><rect x="1549.1" y="740" width="1.8" height="5.6"/></g><path d="M468.6 196.9l4.1 4.2 4.1-4.2" stroke="#a0a6b0" stroke-width="2" fill="none"/><path d="M468.6 231l4.1 4.2 4.1-4.2" stroke="#a0a6b0" stroke-width="2" fill="none"/><path d="M468.6 602.9l4.1 4.2 4.1-4.2" stroke="#a0a6b0" stroke-width="2" fill="none"/></svg>
<div class="r" style="left:780.00px;top:590.00px;width:70.00px;height:32.00px;background:rgba(24,26,32,0.5);"></div>
<span class="t" style="left:485.70px;top:192px;font-size:16px;line-height:18px;color:#848e9c;transform:scaleX(0.9730);-webkit-text-stroke:0.2px #848e9c;">2024/09/20 14:00</span>
<span class="t k" style="left:616.66px;top:191.62px;font-size:16.16px;line-height:16.16px;color:#848e9c;">开</span>
<span class="t" style="left:633.40px;top:192px;font-size:16px;line-height:18px;color:#848e9c;transform:scaleX(0.8533);-webkit-text-stroke:0.2px #848e9c;">:</span>
<span class="t" style="left:649.60px;top:192px;font-size:16px;line-height:18px;color:#f6465d;transform:scaleX(0.9134);-webkit-text-stroke:0.2px #f6465d;">148.41</span>
<span class="t k" style="left:705.03px;top:191.44px;font-size:16.51px;line-height:16.51px;color:#848e9c;">高</span>
<span class="t" style="left:721.90px;top:192px;font-size:16px;line-height:18px;color:#848e9c;transform:scaleX(0.8533);-webkit-text-stroke:0.2px #848e9c;">:</span>
<span class="t" style="left:738.40px;top:192px;font-size:16px;line-height:18px;color:#f6465d;transform:scaleX(0.9134);-webkit-text-stroke:0.2px #f6465d;">148.79</span>
<span class="t k" style="left:793.86px;top:192.03px;font-size:15.34px;line-height:15.34px;color:#848e9c;">低</span>
<span class="t" style="left:810.10px;top:192px;font-size:16px;line-height:18px;color:#848e9c;transform:scaleX(0.8533);-webkit-text-stroke:0.2px #848e9c;">:</span>
<span class="t" style="left:826.20px;top:192px;font-size:16px;line-height:18px;color:#f6465d;transform:scaleX(0.9277);-webkit-text-stroke:0.2px #f6465d;">147.78</span>
<span class="t k" style="left:881.82px;top:191.67px;font-size:16.06px;line-height:16.06px;color:#848e9c;">收</span>
<span class="t" style="left:898.70px;top:192px;font-size:16px;line-height:18px;color:#848e9c;transform:scaleX(0.8533);-webkit-text-stroke:0.2px #848e9c;">:</span>
<span class="t" style="left:914.40px;top:192px;font-size:16px;line-height:18px;color:#f6465d;transform:scaleX(0.9319);-webkit-text-stroke:0.2px #f6465d;">148.11</span>
<span class="t k" style="left:970.17px;top:191.70px;font-size:16.00px;line-height:16.00px;color:#848e9c;">涨跌幅</span>
<span class="t" style="left:1018.80px;top:192px;font-size:16px;line-height:18px;color:#848e9c;transform:scaleX(0.8533);-webkit-text-stroke:0.2px #848e9c;">:</span>
<span class="t" style="left:1033.40px;top:192px;font-size:16px;line-height:18px;color:#f6465d;transform:scaleX(0.9585);-webkit-text-stroke:0.2px #f6465d;">-0.20%</span>
<span class="t k" style="left:1092.62px;top:191.81px;font-size:15.77px;line-height:15.77px;color:#848e9c;">振幅</span>
<span class="t" style="left:1124.80px;top:192px;font-size:16px;line-height:18px;color:#848e9c;transform:scaleX(0.8533);-webkit-text-stroke:0.2px #848e9c;">:</span>
<span class="t" style="left:1140.00px;top:192px;font-size:16px;line-height:18px;color:#f6465d;transform:scaleX(0.9168);-webkit-text-stroke:0.2px #f6465d;">0.68%</span>
<span class="t" style="left:485.70px;top:226px;font-size:16px;line-height:18px;color:#848e9c;transform:scaleX(0.9771);-webkit-text-stroke:0.2px #848e9c;">MA(7):</span>
<span class="t" style="left:544.20px;top:226px;font-size:16px;line-height:18px;color:#f0b90b;transform:scaleX(0.9277);-webkit-text-stroke:0.2px #f0b90b;">145.10</span>
<span class="t" style="left:600.40px;top:226px;font-size:16px;line-height:18px;color:#848e9c;transform:scaleX(0.9577);-webkit-text-stroke:0.2px #848e9c;">MA(25):</span>
<span class="t" style="left:667.60px;top:226px;font-size:16px;line-height:18px;color:#e040a6;transform:scaleX(0.9195);-webkit-text-stroke:0.2px #e040a6;">142.26</span>
<span class="t" style="left:723.10px;top:226px;font-size:16px;line-height:18px;color:#848e9c;transform:scaleX(0.9630);-webkit-text-stroke:0.2px #848e9c;">MA(99):</span>
<span class="t" style="left:790.20px;top:226px;font-size:16px;line-height:18px;color:#9a7be6;transform:scaleX(0.9277);-webkit-text-stroke:0.2px #9a7be6;">134.39</span>
<span class="t" style="left:486.10px;top:598px;font-size:16px;line-height:18px;color:#848e9c;transform:scaleX(0.9472);-webkit-text-stroke:0.2px #848e9c;">Vol(SOL):</span>
<span class="t" style="left:562.90px;top:598px;font-size:16px;line-height:18px;color:#eaecef;transform:scaleX(0.9512);-webkit-text-stroke:0.35px #eaecef;">56.681K</span>
<span class="t" style="left:630.40px;top:598px;font-size:16px;line-height:18px;color:#848e9c;transform:scaleX(0.9444);-webkit-text-stroke:0.2px #848e9c;">Vol(USDT)</span>
<span class="t" style="left:713.40px;top:598px;font-size:16px;line-height:18px;color:#eaecef;transform:scaleX(0.9593);-webkit-text-stroke:0.35px #eaecef;">8.409M</span>
<span class="t" style="left:775.40px;top:598px;font-size:16px;line-height:18px;color:#6fc6e0;transform:scaleX(0.9472);-webkit-text-stroke:0.2px #6fc6e0;">168.569K</span>
<span class="t" style="left:851.40px;top:598px;font-size:16px;line-height:18px;color:#c8446f;transform:scaleX(0.9370);-webkit-text-stroke:0.2px #c8446f;">151.079K</span>
<span class="t" style="left:1053.40px;top:203px;font-size:16px;line-height:18px;color:#848e9c;transform:scaleX(0.8419);">149.62</span>
<span class="t" style="left:714.40px;top:545px;font-size:16px;line-height:18px;color:#dfe2e7;transform:scaleX(0.8725);-webkit-text-stroke:0.3px #dfe2e7;">127.07</span>
<span class="t" style="left:1517.90px;top:229px;font-size:16px;line-height:18px;color:#ffffff;transform:scaleX(0.9424);-webkit-text-stroke:0.35px #ffffff;">148.11</span>
<span class="t" style="left:1516.60px;top:274px;font-size:16px;line-height:18px;color:#b7bdc6;transform:scaleX(0.9400);-webkit-text-stroke:0.25px #b7bdc6;">145.00</span>
<span class="t" style="left:1516.60px;top:350px;font-size:16px;line-height:18px;color:#b7bdc6;transform:scaleX(0.9400);-webkit-text-stroke:0.25px #b7bdc6;">140.00</span>
<span class="t" style="left:1516.60px;top:425px;font-size:16px;line-height:18px;color:#b7bdc6;transform:scaleX(0.9400);-webkit-text-stroke:0.25px #b7bdc6;">135.00</span>
<span class="t" style="left:1516.60px;top:500px;font-size:16px;line-height:18px;color:#b7bdc6;transform:scaleX(0.9400);-webkit-text-stroke:0.25px #b7bdc6;">130.00</span>
<span class="t" style="left:1515.40px;top:630px;font-size:16px;line-height:18px;color:#b7bdc6;transform:scaleX(0.9686);-webkit-text-stroke:0.25px #b7bdc6;">500K</span>
<div class="r" style="left:424px;top:722px;width:1081px;height:42px;overflow:hidden">
<span class="t" style="left:-13.20px;top:14px;font-size:16px;line-height:18px;color:#b7bdc6;transform:scaleX(1.0038);-webkit-text-stroke:0.25px #b7bdc6;">09/17</span>
<span class="t" style="left:94.30px;top:14px;font-size:16px;line-height:18px;color:#b7bdc6;transform:scaleX(0.9539);-webkit-text-stroke:0.25px #b7bdc6;">20:00</span>
<span class="t" style="left:199.80px;top:14px;font-size:16px;line-height:18px;color:#b7bdc6;transform:scaleX(1.0038);-webkit-text-stroke:0.25px #b7bdc6;">09/18</span>
<span class="t" style="left:307.30px;top:14px;font-size:16px;line-height:18px;color:#b7bdc6;transform:scaleX(0.9539);-webkit-text-stroke:0.25px #b7bdc6;">20:00</span>
<span class="t" style="left:412.80px;top:14px;font-size:16px;line-height:18px;color:#b7bdc6;transform:scaleX(1.0038);-webkit-text-stroke:0.25px #b7bdc6;">09/19</span>
<span class="t" style="left:520.30px;top:14px;font-size:16px;line-height:18px;color:#b7bdc6;transform:scaleX(0.9539);-webkit-text-stroke:0.25px #b7bdc6;">20:00</span>
<span class="t" style="left:625.80px;top:14px;font-size:16px;line-height:18px;color:#b7bdc6;transform:scaleX(1.0038);-webkit-text-stroke:0.25px #b7bdc6;">09/20</span>
<span class="t" style="left:733.30px;top:14px;font-size:16px;line-height:18px;color:#b7bdc6;transform:scaleX(0.9539);-webkit-text-stroke:0.25px #b7bdc6;">20:00</span>
<span class="t" style="left:838.80px;top:14px;font-size:16px;line-height:18px;color:#b7bdc6;transform:scaleX(1.0038);-webkit-text-stroke:0.25px #b7bdc6;">09/21</span>
<span class="t" style="left:946.30px;top:14px;font-size:16px;line-height:18px;color:#b7bdc6;transform:scaleX(0.9539);-webkit-text-stroke:0.25px #b7bdc6;">20:00</span>
<span class="t" style="left:1051.80px;top:14px;font-size:16px;line-height:18px;color:#b7bdc6;transform:scaleX(1.0038);-webkit-text-stroke:0.25px #b7bdc6;">09/22</span>
</div>
</div>
</body></html>
